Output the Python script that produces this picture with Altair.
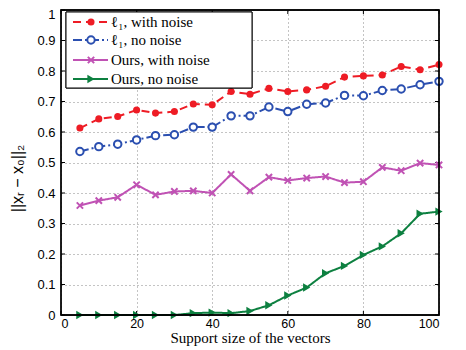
import altair as alt
import pandas as pd

# ---- data ----
support = [5, 10, 15, 20, 25, 30, 35, 40, 45, 50, 55, 60, 65, 70, 75, 80, 85, 90, 95, 100]
l1_noise = [0.613, 0.643, 0.651, 0.672, 0.662, 0.667, 0.692, 0.689, 0.733, 0.724,
            0.743, 0.733, 0.738, 0.750, 0.780, 0.784, 0.787, 0.815, 0.804, 0.821]
l1_clean = [0.536, 0.552, 0.560, 0.574, 0.588, 0.591, 0.616, 0.616, 0.653, 0.653,
            0.682, 0.667, 0.691, 0.695, 0.720, 0.719, 0.736, 0.741, 0.755, 0.766]
ours_noise = [0.359, 0.375, 0.386, 0.427, 0.394, 0.405, 0.407, 0.400, 0.461, 0.407,
              0.452, 0.441, 0.449, 0.454, 0.434, 0.437, 0.484, 0.473, 0.498, 0.492]
ours_clean = [0.0, 0.0, 0.0, 0.0, 0.0, 0.0, 0.006, 0.008, 0.006, 0.013,
              0.032, 0.064, 0.090, 0.137, 0.161, 0.197, 0.225, 0.268, 0.332, 0.339]

series_labels = ["ℓ₁, with noise", "ℓ₁, no noise", "Ours, with noise", "Ours, no noise"]
x_ticks = [0, 20, 40, 60, 80, 100]
y_ticks = [0, 0.1, 0.2, 0.3, 0.4, 0.5, 0.6, 0.7, 0.8, 0.9, 1.0]
x_title = "Support size of the vectors"
y_title = "||xᵣ  −  x₀||₂"

# ---- styles ----
W, H = 378, 305
colors = ["#ee1c25", "#2b4fb0", "#c052b4", "#0d8040"]
dashes = [[8, 5], [9, 3, 2, 3], [1, 0], [1, 0]]
serif = "Liberation Serif, DejaVu Serif, serif"
sans = "Liberation Sans, Arial, DejaVu Sans, sans-serif"
xcross = "M-1,-1L1,1M-1,1L1,-1"

xs = alt.Scale(domain=[0, 100], nice=False, zero=False)
ys = alt.Scale(domain=[0, 1], nice=False, zero=False)

xaxis = alt.Axis(
    values=x_ticks, title=x_title, grid=True, ticks=False, domain=False,
    labelFont=sans, labelFontSize=12.5, labelColor="black", labelPadding=2,
    titleFont=serif, titleFontSize=15, titleFontWeight="normal", titleColor="black",
    titleBaseline="alphabetic", titleY=27,
    gridColor="#888", gridDash=[1, 3], gridWidth=1)
yaxis = alt.Axis(
    values=y_ticks, format="~g", title=y_title, grid=True, ticks=False, domain=False,
    labelFont=sans, labelFontSize=13, labelColor="black", labelPadding=6,
    labelOffset={"condition": {"test": "datum.value == 1", "value": 4}, "value": 0},
    titleFont=sans, titleFontSize=16, titleFontWeight="normal", titleColor="black",
    titleAngle=-90, titleAlign="center", titleBaseline="middle", titleX=-44, titleY=168,
    gridColor="#888", gridDash=[1, 3], gridWidth=1)

XE = alt.X("x:Q", scale=xs, axis=xaxis)
YE = alt.Y("v:Q", scale=ys, axis=yaxis)

all_values = [l1_noise, l1_clean, ours_noise, ours_clean]
frames = []
for lab, vals in zip(series_labels, all_values):
    frames.append(pd.DataFrame({"x": support, "v": vals, "s": lab}))
df = pd.concat(frames, ignore_index=True)

axis_df = pd.DataFrame({"x": [0, 100], "v": [0, 1]})
axes = alt.Chart(axis_df).mark_point(opacity=0).encode(x=XE, y=YE)

# inward tick marks on all four sides
xt = pd.DataFrame({"x": x_ticks})
yt = pd.DataFrame({"v": y_ticks})
tick_layers = [
    alt.Chart(xt).mark_rule(color="black", strokeWidth=1).encode(
        x=XE, y=alt.value(H), y2=alt.value(H - 4)),
    alt.Chart(xt).mark_rule(color="black", strokeWidth=1).encode(
        x=XE, y=alt.value(0), y2=alt.value(4)),
    alt.Chart(yt).mark_rule(color="black", strokeWidth=1).encode(
        y=YE, x=alt.value(0), x2=alt.value(4)),
    alt.Chart(yt).mark_rule(color="black", strokeWidth=1).encode(
        y=YE, x=alt.value(W), x2=alt.value(W - 4)),
]

marker_style = [
    dict(shape="circle", filled=True, size=50, strokeWidth=0),
    dict(shape="circle", filled=False, fill="white", fillOpacity=1, size=55, strokeWidth=2),
    dict(shape=xcross, filled=False, size=40, strokeWidth=2),
    dict(shape="triangle-right", filled=True, size=70, strokeWidth=0),
]

series_layers = []
for i, lab in enumerate(series_labels):
    sub = df[df["s"] == lab]
    base = alt.Chart(sub)
    line = base.mark_line(color=colors[i], strokeWidth=2, strokeDash=dashes[i]).encode(x=XE, y=YE)
    pts = base.mark_point(color=colors[i], opacity=1, **marker_style[i]).encode(x=XE, y=YE)
    series_layers += [line, pts]

frame = alt.Chart(axis_df).mark_rect(fill=None, filled=False, stroke="black", strokeWidth=1.3).encode(
    x=alt.value(0), x2=alt.value(W), y=alt.value(0), y2=alt.value(H))

# legend (drawn by hand to reproduce line+marker samples)
leg_rows = [12, 30, 50, 69]
legend_layers = [
    alt.Chart(axis_df).mark_rect(fill="white", stroke="black", strokeWidth=1).encode(
        x=alt.value(5), x2=alt.value(191), y=alt.value(2), y2=alt.value(78))
]
for i, lab in enumerate(series_labels):
    yy = leg_rows[i]
    one = pd.DataFrame({"label": [lab]})
    legend_layers.append(
        alt.Chart(one).mark_rule(color=colors[i], strokeWidth=2, strokeDash=dashes[i]).encode(
            x=alt.value(12), x2=alt.value(47), y=alt.value(yy)))
    legend_layers.append(
        alt.Chart(one).mark_point(color=colors[i], opacity=1, **marker_style[i]).encode(
            x=alt.value(30), y=alt.value(yy)))
    legend_layers.append(
        alt.Chart(one).mark_text(font=serif, fontSize=15, align="left", baseline="middle",
                                 color="black").encode(
            x=alt.value(50), y=alt.value(yy), text="label:N"))

chart = alt.layer(axes, *tick_layers, *series_layers, frame, *legend_layers).properties(
    width=W, height=H,
    autosize=alt.AutoSizeParams(type="none"),
    padding={"left": 53, "top": 2, "right": 19, "bottom": 33},
).configure_view(stroke=None).configure(background="white")

chart.save("out.html", embed_options={"renderer": "svg", "actions": False})
